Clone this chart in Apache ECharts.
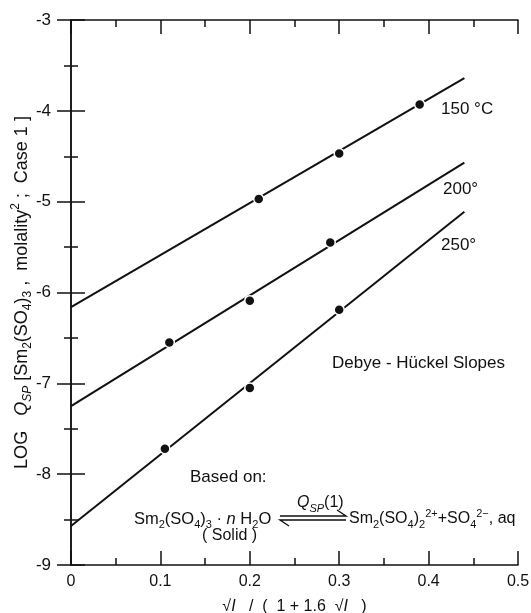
<!DOCTYPE html>
<html><head><meta charset="utf-8">
<script src="https://cdn.jsdelivr.net/npm/echarts@6/dist/echarts.min.js"></script>
<style>html,body{margin:0;padding:0;background:#fff}#c{width:531px;height:613px}</style>
</head><body><div id="c"></div>
<script>
// ---- data ----
const xTickLabels = ['0', '0.1', '0.2', '0.3', '0.4', '0.5'];
const yTickLabels = ['-9', '-8', '-7', '-6', '-5', '-4', '-3'];
const pts150 = [[0.21, -4.97], [0.30, -4.47], [0.39, -3.93]];
const pts200 = [[0.11, -6.55], [0.20, -6.09], [0.29, -5.45]];
const pts250 = [[0.105, -7.72], [0.20, -7.05], [0.30, -6.19]];
const line150 = [[0, -6.16], [0.44, -3.64]];
const line200 = [[0, -7.25], [0.44, -4.57]];
const line250 = [[0, -8.57], [0.44, -5.11]];
const curveLabels = ['150 \u00b0C', '200\u00b0', '250\u00b0'];

const FONT = 'Liberation Sans, Arial, Helvetica, sans-serif';
const INK = '#111';
const chart = echarts.init(document.getElementById('c'));

function rich(size) {
  const s = Math.round(size * 0.68);
  const lh = Math.round(size * 1.35);
  return {
    n: {fontSize: size, lineHeight: lh, fontFamily: FONT, color: INK},
    it: {fontSize: size, lineHeight: lh, fontStyle: 'italic', fontFamily: FONT, color: INK},
    sub: {fontSize: s, lineHeight: s, verticalAlign: 'bottom', fontFamily: FONT, color: INK},
    subit: {fontSize: s, lineHeight: s, verticalAlign: 'bottom', fontStyle: 'italic', fontFamily: FONT, color: INK},
    sup: {fontSize: s, lineHeight: s, verticalAlign: 'top', fontFamily: FONT, color: INK}
  };
}

const tickStyle = (len) => ({show: true, inside: true, length: len, lineStyle: {color: INK, width: 1.5}});
const minor = {show: true, splitNumber: 2, length: 7, lineStyle: {color: INK, width: 1.5}};

function lineSeries(d) {
  return {type: 'line', data: d, showSymbol: false, symbol: 'none', silent: true,
    lineStyle: {color: INK, width: 2}, z: 2};
}
function ptSeries(d) {
  return {type: 'scatter', data: d, symbol: 'circle', symbolSize: 10, silent: true,
    itemStyle: {color: INK, borderColor: '#fff', borderWidth: 1.5, opacity: 1}, z: 3};
}

const option = {
  backgroundColor: '#fff',
  animation: false,
  grid: {left: 71, right: 13, top: 20, bottom: 48, containLabel: false, outerBoundsMode: 'none'},
  xAxis: [{
    type: 'value', min: 0, max: 0.5, interval: 0.1,
    axisLine: {show: true, lineStyle: {color: INK, width: 1.5}},
    axisTick: tickStyle(14), minorTick: minor, splitLine: {show: false},
    axisLabel: {margin: 9, fontSize: 16, fontFamily: FONT, color: INK,
      formatter: (v) => xTickLabels[Math.round(v * 10)]},
    name: '{n|\u221a}{it|I}{n|   /  (  1 + 1.6  \u221a}{it|I}{n|   )}',
    nameLocation: 'middle', nameGap: 31, nameMoveOverlap: false,
    nameTextStyle: {rich: rich(16), fontSize: 16, fontFamily: FONT, color: INK}
  }, {
    type: 'value', position: 'top', min: 0, max: 0.5, interval: 0.1,
    axisLine: {show: true, lineStyle: {color: INK, width: 1.5}},
    axisTick: tickStyle(14), minorTick: minor, splitLine: {show: false},
    axisLabel: {show: false}
  }],
  yAxis: [{
    type: 'value', min: -9, max: -3, interval: 1,
    axisLine: {show: true, lineStyle: {color: INK, width: 1.5}},
    axisTick: tickStyle(14), minorTick: minor, splitLine: {show: false},
    axisLabel: {margin: 20, fontSize: 17, fontFamily: FONT, color: INK,
      formatter: (v) => yTickLabels[Math.round(v + 9)]},
    name: '{n|LOG   }{it|Q}{subit|SP}{n| [Sm}{sub|2}{n|(SO}{sub|4}{n|)}{sub|3}{n| ,  molality}{sup|2}{n| ;  Case 1 ]}',
    nameLocation: 'middle', nameGap: 37, nameMoveOverlap: false,
    nameTextStyle: {rich: rich(18), fontSize: 18, fontFamily: FONT, color: INK}
  }, {
    type: 'value', position: 'right', min: -9, max: -3, interval: 1,
    axisLine: {show: true, lineStyle: {color: INK, width: 1.5}},
    axisTick: tickStyle(14), minorTick: minor, splitLine: {show: false},
    axisLabel: {show: false}
  }],
  series: [
    lineSeries(line150), lineSeries(line200), lineSeries(line250),
    ptSeries(pts150), ptSeries(pts200), ptSeries(pts250)
  ],
  graphic: [
    {type: 'text', x: 441, y: 109, style: {text: curveLabels[0], font: '17px ' + FONT, fill: INK, align: 'left', verticalAlign: 'middle'}},
    {type: 'text', x: 443, y: 189, style: {text: curveLabels[1], font: '17px ' + FONT, fill: INK, align: 'left', verticalAlign: 'middle'}},
    {type: 'text', x: 441, y: 245, style: {text: curveLabels[2], font: '17px ' + FONT, fill: INK, align: 'left', verticalAlign: 'middle'}},
    {type: 'text', x: 505, y: 363, style: {text: 'Debye - H\u00fcckel Slopes', font: '17px ' + FONT, fill: INK, align: 'right', verticalAlign: 'middle'}},
    {type: 'text', x: 190, y: 477, style: {text: 'Based on:', font: '17px ' + FONT, fill: INK, align: 'left', verticalAlign: 'middle'}},
    {type: 'text', x: 134, y: 519, style: {
      text: '{n|Sm}{sub|2}{n|(SO}{sub|4}{n|)}{sub|3}{n| \u00b7 }{it|n}{n| H}{sub|2}{n|O}',
      rich: rich(16.5), font: '16.5px ' + FONT, fill: INK, align: 'left', verticalAlign: 'middle'}},
    {type: 'text', x: 202, y: 536, style: {text: '( Solid )', font: '16px ' + FONT, fill: INK, align: 'left', verticalAlign: 'middle'}},
    {type: 'text', x: 297, y: 503, style: {
      text: '{it|Q}{subit|SP}{n|(1)}', rich: rich(16), font: '16px ' + FONT, fill: INK, align: 'left', verticalAlign: 'middle'}},
    {type: 'text', x: 349, y: 519, style: {
      text: '{n|Sm}{sub|2}{n|(SO}{sub|4}{n|)}{sub|2}{sup|2+}{n|+SO}{sub|4}{sup|2\u2212}{n|, aq}',
      rich: rich(16), font: '16px ' + FONT, fill: INK, align: 'left', verticalAlign: 'middle'}},
    {type: 'polyline', shape: {points: [[280, 516], [346, 516], [337, 510]]}, style: {stroke: INK, lineWidth: 1.4, fill: null}},
    {type: 'polyline', shape: {points: [[289, 526], [280, 520], [346, 520]]}, style: {stroke: INK, lineWidth: 1.4, fill: null}}
  ]
};
chart.setOption(option);
</script></body></html>
